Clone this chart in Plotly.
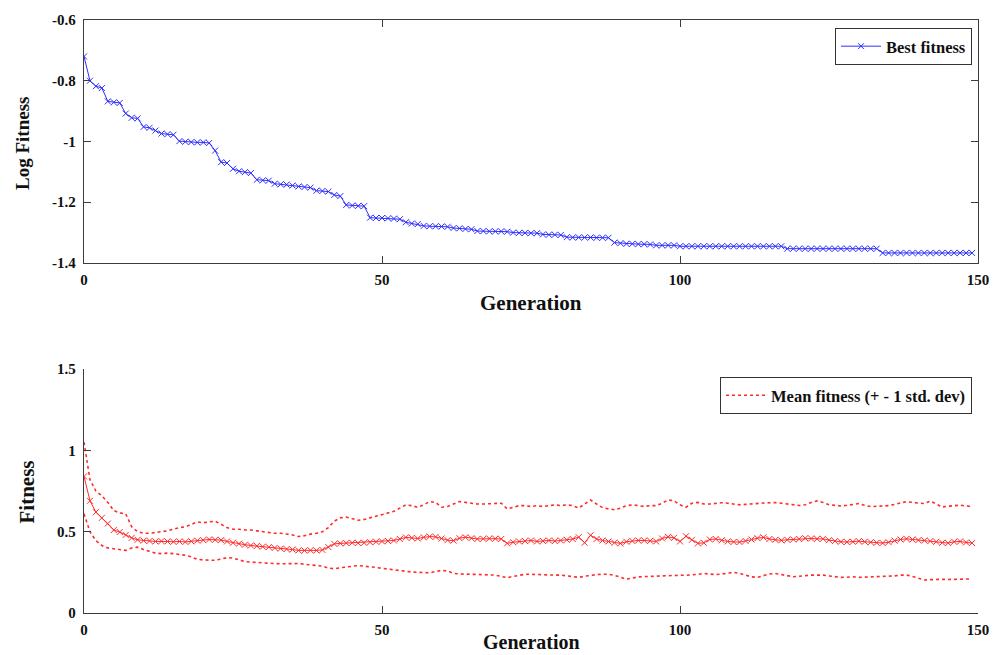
import plotly.graph_objects as go

# Generation index for every recorded value
generation = list(range(150))

# Best fitness per generation (log10 scale)
best_log_fitness = [
    -0.720, -0.800, -0.818, -0.824, -0.868, -0.871, -0.873, -0.908, -0.922, -0.924,
    -0.952, -0.955, -0.964, -0.974, -0.976, -0.978, -0.999, -1.001, -1.002, -1.003,
    -1.003, -1.005, -1.030, -1.068, -1.071, -1.090, -1.098, -1.101, -1.104, -1.126,
    -1.128, -1.129, -1.139, -1.141, -1.142, -1.145, -1.148, -1.150, -1.152, -1.162,
    -1.163, -1.165, -1.176, -1.180, -1.209, -1.211, -1.212, -1.213, -1.251, -1.252,
    -1.252, -1.253, -1.254, -1.256, -1.266, -1.270, -1.272, -1.278, -1.279, -1.279,
    -1.280, -1.281, -1.285, -1.286, -1.288, -1.289, -1.295, -1.295, -1.296, -1.296,
    -1.296, -1.297, -1.300, -1.301, -1.301, -1.302, -1.302, -1.306, -1.307, -1.307,
    -1.308, -1.315, -1.316, -1.316, -1.316, -1.316, -1.317, -1.317, -1.317, -1.333,
    -1.335, -1.337, -1.337, -1.338, -1.338, -1.339, -1.342, -1.342, -1.342, -1.342,
    -1.345, -1.345, -1.345, -1.345, -1.345, -1.345, -1.345, -1.345, -1.345, -1.345,
    -1.345, -1.345, -1.345, -1.345, -1.345, -1.345, -1.345, -1.345, -1.353, -1.353,
    -1.353, -1.353, -1.353, -1.353, -1.353, -1.353, -1.353, -1.353, -1.353, -1.353,
    -1.353, -1.353, -1.353, -1.353, -1.367, -1.367, -1.367, -1.367, -1.367, -1.367,
    -1.367, -1.367, -1.367, -1.367, -1.367, -1.367, -1.367, -1.367, -1.367, -1.367,
]

# Population mean fitness per generation
mean_fitness = [
    0.840, 0.690, 0.620, 0.585, 0.550, 0.510, 0.498, 0.480, 0.462, 0.450,
    0.445, 0.443, 0.440, 0.442, 0.440, 0.438, 0.440, 0.437, 0.441, 0.445,
    0.448, 0.452, 0.450, 0.448, 0.440, 0.432, 0.426, 0.420, 0.415, 0.412,
    0.408, 0.405, 0.400, 0.396, 0.393, 0.390, 0.385, 0.384, 0.386, 0.385,
    0.388, 0.405, 0.425, 0.428, 0.430, 0.432, 0.430, 0.432, 0.435, 0.438,
    0.440, 0.443, 0.446, 0.455, 0.465, 0.462, 0.458, 0.465, 0.470, 0.468,
    0.458, 0.448, 0.445, 0.460, 0.466, 0.460, 0.455, 0.456, 0.458, 0.457,
    0.455, 0.428, 0.435, 0.440, 0.442, 0.446, 0.440, 0.443, 0.446, 0.442,
    0.446, 0.450, 0.455, 0.466, 0.432, 0.478, 0.455, 0.446, 0.440, 0.432,
    0.428, 0.438, 0.443, 0.446, 0.446, 0.444, 0.440, 0.458, 0.468, 0.462,
    0.440, 0.472, 0.450, 0.428, 0.432, 0.452, 0.455, 0.447, 0.440, 0.437,
    0.436, 0.443, 0.452, 0.460, 0.465, 0.455, 0.450, 0.447, 0.450, 0.452,
    0.455, 0.460, 0.458, 0.456, 0.456, 0.448, 0.442, 0.438, 0.436, 0.438,
    0.442, 0.438, 0.435, 0.432, 0.430, 0.435, 0.445, 0.452, 0.456, 0.452,
    0.448, 0.446, 0.442, 0.438, 0.432, 0.430, 0.438, 0.440, 0.434, 0.430,
]

# Mean + 1 standard deviation
upper_band = [
    1.050, 0.820, 0.750, 0.720, 0.680, 0.630, 0.615, 0.610, 0.530, 0.500,
    0.490, 0.490, 0.495, 0.500, 0.505, 0.515, 0.525, 0.530, 0.545, 0.560,
    0.555, 0.560, 0.565, 0.545, 0.525, 0.515, 0.515, 0.510, 0.510, 0.505,
    0.500, 0.495, 0.490, 0.490, 0.485, 0.480, 0.470, 0.475, 0.485, 0.490,
    0.500, 0.525, 0.565, 0.585, 0.590, 0.580, 0.570, 0.575, 0.585, 0.595,
    0.605, 0.615, 0.625, 0.645, 0.665, 0.660, 0.650, 0.665, 0.685, 0.680,
    0.650, 0.655, 0.670, 0.685, 0.680, 0.675, 0.670, 0.670, 0.672, 0.675,
    0.675, 0.640, 0.650, 0.660, 0.660, 0.655, 0.660, 0.655, 0.660, 0.665,
    0.660, 0.665, 0.660, 0.645, 0.670, 0.695, 0.670, 0.648, 0.640, 0.635,
    0.645, 0.660, 0.665, 0.660, 0.655, 0.660, 0.660, 0.675, 0.695, 0.690,
    0.665, 0.650, 0.675, 0.680, 0.670, 0.670, 0.672, 0.678, 0.675, 0.670,
    0.665, 0.668, 0.672, 0.673, 0.676, 0.678, 0.679, 0.675, 0.670, 0.669,
    0.661, 0.665, 0.680, 0.689, 0.680, 0.666, 0.662, 0.658, 0.662, 0.668,
    0.673, 0.662, 0.654, 0.656, 0.658, 0.660, 0.668, 0.678, 0.685, 0.680,
    0.675, 0.673, 0.688, 0.668, 0.652, 0.657, 0.662, 0.663, 0.658, 0.654,
]

# Mean - 1 standard deviation
lower_band = [
    0.610, 0.500, 0.445, 0.415, 0.400, 0.395, 0.390, 0.385, 0.400, 0.405,
    0.390, 0.378, 0.368, 0.365, 0.368, 0.365, 0.360, 0.355, 0.345, 0.330,
    0.326, 0.325, 0.324, 0.332, 0.340, 0.338, 0.325, 0.316, 0.313, 0.310,
    0.306, 0.304, 0.304, 0.303, 0.304, 0.304, 0.304, 0.300, 0.297, 0.294,
    0.288, 0.276, 0.272, 0.278, 0.283, 0.290, 0.292, 0.288, 0.282, 0.280,
    0.275, 0.270, 0.266, 0.260, 0.255, 0.252, 0.250, 0.248, 0.247, 0.255,
    0.262, 0.258, 0.244, 0.240, 0.240, 0.238, 0.238, 0.236, 0.234, 0.233,
    0.225, 0.217, 0.225, 0.232, 0.238, 0.238, 0.236, 0.235, 0.234, 0.233,
    0.233, 0.228, 0.222, 0.219, 0.226, 0.233, 0.236, 0.238, 0.238, 0.232,
    0.220, 0.208, 0.215, 0.222, 0.224, 0.226, 0.225, 0.226, 0.230, 0.233,
    0.232, 0.232, 0.233, 0.238, 0.243, 0.240, 0.236, 0.240, 0.244, 0.250,
    0.244, 0.232, 0.222, 0.219, 0.230, 0.240, 0.243, 0.235, 0.228, 0.223,
    0.226, 0.230, 0.233, 0.233, 0.233, 0.228, 0.222, 0.219, 0.220, 0.223,
    0.219, 0.220, 0.224, 0.224, 0.222, 0.223, 0.228, 0.233, 0.233, 0.225,
    0.212, 0.203, 0.205, 0.207, 0.207, 0.206, 0.208, 0.209, 0.209, 0.209,
]

x_ticks = [0, 50, 100, 150]
top_y_ticks = [-1.4, -1.2, -1.0, -0.8, -0.6]
top_y_labels = ["-1.4", "-1.2", "-1", "-0.8", "-0.6"]
bottom_y_ticks = [0, 0.5, 1, 1.5]
bottom_y_labels = ["0", "0.5", "1", "1.5"]

SERIF = "Liberation Serif, Times New Roman, serif"
AXIS_COLOR = "#3c3c3c"
BLUE = "#2f2fff"
RED = "#ff2b2b"

fig = go.Figure()

fig.add_trace(go.Scatter(
    x=generation, y=best_log_fitness, name="Best fitness",
    mode="lines+markers", xaxis="x", yaxis="y", legend="legend",
    line=dict(color=BLUE, width=1),
    marker=dict(symbol="x-thin", size=6, color=BLUE, line=dict(color=BLUE, width=1)),
))

fig.add_trace(go.Scatter(
    x=generation, y=upper_band, name="Mean fitness (+ - 1 std. dev)",
    mode="lines", xaxis="x2", yaxis="y2", legend="legend2",
    line=dict(color=RED, width=1.6, dash="3px,3px"),
))
fig.add_trace(go.Scatter(
    x=generation, y=mean_fitness, name="Mean fitness",
    mode="lines+markers", xaxis="x2", yaxis="y2", showlegend=False,
    line=dict(color=RED, width=1),
    marker=dict(symbol="x-thin", size=6, color=RED, line=dict(color=RED, width=1)),
))
fig.add_trace(go.Scatter(
    x=generation, y=lower_band, name="Mean - 1 std. dev",
    mode="lines", xaxis="x2", yaxis="y2", showlegend=False,
    line=dict(color=RED, width=1.6, dash="3px,3px"),
))

tick_font = dict(family=SERIF, size=15, color="#111111", weight="bold")
common_axis = dict(
    showgrid=False, zeroline=False, showline=True, linecolor=AXIS_COLOR,
    linewidth=1.3, ticks="inside", ticklen=7, tickwidth=1.1, tickcolor=AXIS_COLOR,
    tickfont=tick_font,
)

fig.update_layout(
    width=1003, height=655,
    margin=dict(l=84, r=25, t=15, b=42),
    paper_bgcolor="white", plot_bgcolor="white",
    xaxis=dict(common_axis, domain=[0, 1], range=[0, 150], anchor="y",
               tickvals=x_ticks, mirror="ticks", ticklabelstandoff=3),
    yaxis=dict(common_axis, domain=[0.5903, 1], range=[-1.4, -0.6], anchor="x",
               tickvals=top_y_ticks, ticktext=top_y_labels, mirror="ticks",
               ticklabelstandoff=4),
    xaxis2=dict(common_axis, domain=[0, 1], range=[0, 150], anchor="y2",
                tickvals=x_ticks, ticklabelstandoff=3),
    yaxis2=dict(common_axis, domain=[0, 0.4114], range=[0, 1.5], anchor="x2",
                tickvals=bottom_y_ticks, ticktext=bottom_y_labels,
                ticklabelstandoff=4),
    legend=dict(
        x=0.9933, y=0.9866, xanchor="right", yanchor="top",
        bgcolor="white", bordercolor="#333333", borderwidth=1,
        font=dict(family=SERIF, size=16.5, color="#111111", weight="bold"),
        itemwidth=40,
    ),
    legend2=dict(
        x=0.9933, y=0.398, xanchor="right", yanchor="top",
        bgcolor="white", bordercolor="#333333", borderwidth=1,
        font=dict(family=SERIF, size=16.5, color="#111111", weight="bold"),
        itemwidth=40,
    ),
    annotations=[
        dict(text="Generation", x=0.5, y=0.5234, xref="paper", yref="paper",
             xanchor="center", yanchor="middle", showarrow=False,
             font=dict(family=SERIF, size=21, color="#111111", weight="bold")),
        dict(text="Generation", x=0.5, y=-0.0485, xref="paper", yref="paper",
             xanchor="center", yanchor="middle", showarrow=False,
             font=dict(family=SERIF, size=20, color="#111111", weight="bold")),
        dict(text="Log Fitness", x=-0.0682, y=0.791, xref="paper", yref="paper",
             xanchor="center", yanchor="middle", showarrow=False, textangle=-90,
             font=dict(family=SERIF, size=19, color="#111111", weight="bold")),
        dict(text="Fitness", x=-0.0632, y=0.204, xref="paper", yref="paper",
             xanchor="center", yanchor="middle", showarrow=False, textangle=-90,
             font=dict(family=SERIF, size=21, color="#111111", weight="bold")),
    ],
)

fig.write_html("out.html")
